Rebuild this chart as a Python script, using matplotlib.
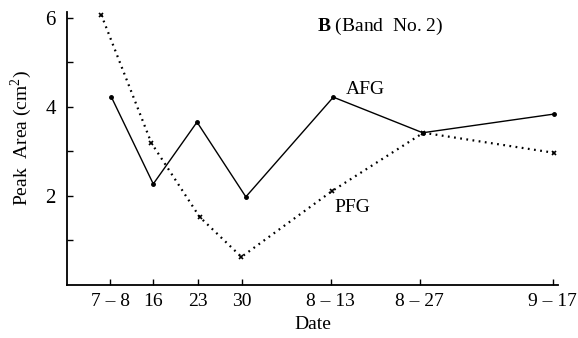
import matplotlib
matplotlib.use("Agg")
import matplotlib.pyplot as plt

# x positions in days, y = peak area (cm^2)
tick_pos = [9.2, 16, 23, 30, 44, 58, 79]
tick_labels = ["7 – 8", "16", "23", "30", "8 – 13", "8 – 27", "9 – 17"]

afg_x = [9.4, 16.0, 22.9, 30.6, 44.4, 58.5, 79.2]
afg_y = [4.22, 2.27, 3.66, 1.98, 4.22, 3.42, 3.84]

pfg_x = [7.8, 15.7, 23.3, 29.9, 44.2, 58.6, 79.2]
pfg_y = [6.07, 3.19, 1.53, 0.63, 2.11, 3.42, 2.97]

plt.rcParams['font.family'] = ['Liberation Serif', 'DejaVu Serif']
plt.rcParams['mathtext.fontset'] = 'custom'
plt.rcParams['mathtext.rm'] = 'Liberation Serif'
plt.rcParams['mathtext.bf'] = 'Liberation Serif:bold'

fig = plt.figure(figsize=(5.78, 3.38), dpi=100)
ax = fig.add_axes([0.116, 0.157, 0.849, 0.807])

ax.plot(afg_x, afg_y, color='black', lw=1.0, marker='o', ms=2.5)
ax.plot(pfg_x, pfg_y, color='black', lw=1.6, linestyle=(0, (0.8, 2.0)),
        marker='x', ms=3.5, mew=1.2)

ax.set_xlim(2.4, 79.8)
ax.set_ylim(0, 6.13)

ax.set_xticks(tick_pos)
ax.set_xticklabels(tick_labels, fontsize=14)
ax.set_yticks([2, 4, 6])
ax.set_yticklabels(["2", "4", "6"], fontsize=15)
ax.set_yticks([1, 3, 5], minor=True)
ax.tick_params(axis='both', which='both', direction='in', length=4, width=1)
ax.tick_params(axis='x', pad=6)
ax.tick_params(axis='y', pad=8)

for s in ['top', 'right']:
    ax.spines[s].set_visible(False)
for s in ['left', 'bottom']:
    ax.spines[s].set_linewidth(1.3)

ax.set_xlabel("Date", fontsize=14, labelpad=4)
ax.set_ylabel("Peak  Area (cm$^2$)", fontsize=14)
ax.yaxis.set_label_coords(-0.068, 0.54)

ax.text(0.51, 0.985, r"$\mathbf{B}$ (Band  No. 2)", transform=ax.transAxes,
        fontsize=14, va='top', ha='left')
ax.text(46.3, 4.2, "AFG", fontsize=14, ha='left', va='bottom')
ax.text(44.6, 1.93, "PFG", fontsize=14, ha='left', va='top')

fig.savefig("out.png", dpi=100, facecolor='white')
